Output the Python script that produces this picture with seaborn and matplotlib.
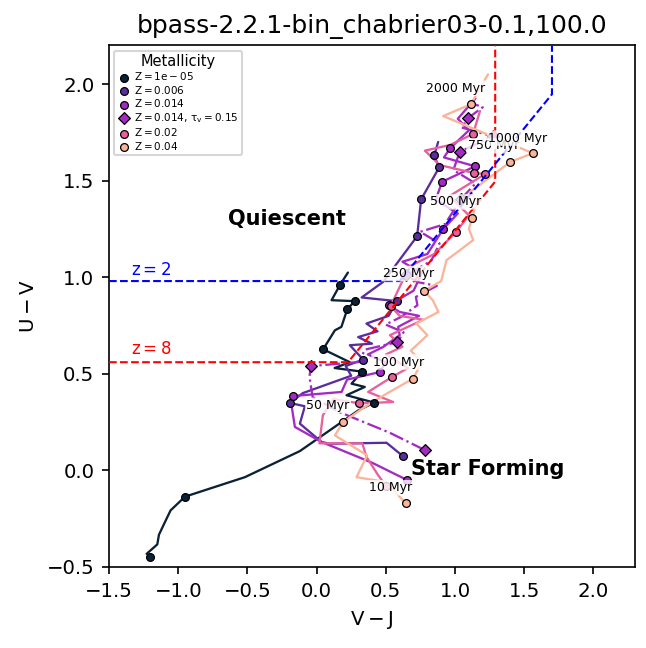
import matplotlib
matplotlib.use("Agg")
import matplotlib.pyplot as plt
import seaborn as sns

# colour-colour tracks (V-J, U-V)
z1e5_line_x = [-1.228, -1.151, -1.139, -1.096, -1.055, -0.951, -0.518, -0.121, 0.12, 0.30, 0.416,
               0.216, 0.348, 0.252, 0.329, 0.13, 0.24, 0.047, 0.132, 0.179, 0.221, 0.274, 0.108, 0.168, 0.226]
z1e5_line_y = [-0.432, -0.383, -0.333, -0.268, -0.207, -0.136, -0.035, 0.100, 0.22, 0.31, 0.351,
               0.389, 0.432, 0.449, 0.511, 0.53, 0.56, 0.627, 0.725, 0.743, 0.833, 0.876, 0.881, 0.959, 1.024]
z1e5_age_x = [-1.204, -0.951, 0.416, 0.329, 0.047, 0.221, 0.274, 0.168]
z1e5_age_y = [-0.446, -0.136, 0.351, 0.511, 0.627, 0.833, 0.876, 0.959]

z006_line_x = [0.625, 0.505, 0.096, 0.036, -0.121, -0.085, -0.193, -0.10, 0.25, 0.21, 0.336, 0.24, 0.40,
               0.30, 0.44, 0.36, 0.52, 0.581, 0.325, 0.481, 0.726, 0.755, 0.885, 0.849, 0.878]
z006_line_y = [0.073, 0.143, 0.138, 0.147, 0.242, 0.332, 0.349, 0.40, 0.49, 0.54, 0.574, 0.648, 0.656,
               0.69, 0.72, 0.76, 0.80, 0.876, 0.895, 0.976, 1.212, 1.403, 1.568, 1.630, 1.70]
z006_age_x = [0.625, -0.193, 0.336, 0.581, 0.726, 0.755, 0.885, 0.849]
z006_age_y = [0.073, 0.349, 0.574, 0.876, 1.212, 1.403, 1.568, 1.630]

z014_line_x = [0.654, 0.40, 0.036, -0.157, -0.18, -0.169, 0.18, 0.22, 0.456, 0.50, 0.37, 0.481, 0.60,
               0.589, 0.74, 0.60, 0.52, 0.70, 0.76, 0.62, 0.80, 0.914, 1.02, 0.86, 0.906, 1.145, 0.92,
               0.965, 1.10, 1.02, 1.14]
z014_line_y = [-0.05, 0.04, 0.147, 0.225, 0.33, 0.385, 0.406, 0.47, 0.509, 0.56, 0.60, 0.639, 0.70,
               0.743, 0.80, 0.82, 0.855, 0.93, 1.02, 1.08, 1.12, 1.249, 1.33, 1.40, 1.494, 1.574, 1.62,
               1.668, 1.76, 1.82, 1.92]
z014_age_x = [0.654, -0.169, 0.456, 0.52, 0.914, 0.906, 1.145, 0.965]
z014_age_y = [-0.05, 0.385, 0.509, 0.855, 1.249, 1.494, 1.574, 1.668]

dust_line_x = [0.782, 0.528, 0.164, -0.029, -0.052, -0.041, 0.308, 0.348, 0.584, 0.628, 0.498, 0.609,
               0.728, 0.717, 0.868, 0.728, 0.648, 0.828, 0.888, 0.748, 0.928, 1.042, 1.148, 0.988,
               1.034, 1.273, 1.048, 1.093, 1.20, 1.12, 1.16]
dust_line_y = [0.105, 0.195, 0.302, 0.380, 0.485, 0.540, 0.561, 0.625, 0.664, 0.715, 0.755, 0.794,
               0.855, 0.898, 0.955, 0.975, 1.010, 1.085, 1.175, 1.235, 1.275, 1.404, 1.485, 1.555,
               1.649, 1.729, 1.775, 1.823, 1.88, 1.90, 1.94]
dust_age_x = [0.782, -0.041, 0.584, 0.648, 1.042, 1.034, 1.273, 1.093]
dust_age_y = [0.105, 0.540, 0.664, 1.010, 1.404, 1.649, 1.729, 1.823]

z02_line_x = [0.50, 0.44, 0.36, 0.33, 0.02, 0.045, 0.12, 0.307, 0.553, 0.372, 0.545, 0.66, 0.50, 0.62,
              0.53, 0.77, 0.60, 0.534, 0.62, 0.68, 0.85, 1.008, 1.10, 0.96, 1.217, 1.138, 0.89, 0.782,
              0.962, 1.130, 1.18]
z02_line_y = [-0.08, -0.02, 0.07, 0.14, 0.14, 0.285, 0.37, 0.347, 0.354, 0.406, 0.484, 0.53, 0.60, 0.64,
              0.70, 0.78, 0.80, 0.850, 0.98, 1.06, 1.12, 1.235, 1.32, 1.42, 1.534, 1.539, 1.58, 1.655,
              1.684, 1.741, 1.86]
z02_age_x = [0.50, 0.307, 0.545, 0.534, 1.008, 1.138, 1.217, 1.130]
z02_age_y = [-0.08, 0.347, 0.484, 0.850, 1.235, 1.539, 1.534, 1.741]

z04_line_x = [0.647, 0.613, 0.505, 0.288, 0.365, 0.132, 0.192, 0.33, 0.505, 0.697, 0.76, 0.68, 0.80,
              0.72, 0.88, 0.84, 0.777, 0.90, 0.938, 1.131, 1.10, 1.123, 1.16, 1.106, 1.398, 1.561,
              0.914, 1.114, 1.238]
z04_line_y = [-0.171, -0.147, -0.061, -0.035, 0.078, 0.181, 0.25, 0.32, 0.397, 0.475, 0.56, 0.62, 0.70,
              0.76, 0.82, 0.88, 0.929, 0.98, 1.088, 1.192, 1.25, 1.306, 1.40, 1.439, 1.596, 1.642,
              1.834, 1.895, 2.05]
z04_age_x = [0.647, 0.192, 0.697, 0.777, 1.123, 1.398, 1.561, 1.114]
z04_age_y = [-0.171, 0.25, 0.475, 0.929, 1.306, 1.596, 1.642, 1.895]

# age labels
age_text = ["10 Myr", "50 Myr", "100 Myr", "250 Myr", "500 Myr", "750 Myr", "1000 Myr", "2000 Myr"]
age_text_x = [0.534, 0.083, 0.589, 0.661, 1.005, 1.275, 1.455, 1.005]
age_text_y = [-0.09, 0.337, 0.561, 1.019, 1.39, 1.68, 1.72, 1.978]

# quiescent selection boundaries
z8_cut_x = [-1.5, 0.227, 1.29, 1.29]
z8_cut_y = [0.56, 0.56, 1.495, 2.2]
z2_cut_x = [-1.5, 0.60, 1.70, 1.70]
z2_cut_y = [0.98, 0.98, 1.947, 2.2]

tracks = [
    (r"$Z = 1e-05$", z1e5_line_x, z1e5_line_y, z1e5_age_x, z1e5_age_y, "#0b2136", "-", "o"),
    (r"$Z = 0.006$", z006_line_x, z006_line_y, z006_age_x, z006_age_y, "#5a2d9e", "-", "o"),
    (r"$Z = 0.014$", z014_line_x, z014_line_y, z014_age_x, z014_age_y, "#a32bc4", "-", "o"),
    (r"$Z = 0.014,\, \tau_{v} = 0.15$", dust_line_x, dust_line_y, dust_age_x, dust_age_y, "#a32bc4", "-.", "D"),
    (r"$Z = 0.02$", z02_line_x, z02_line_y, z02_age_x, z02_age_y, "#e8609c", "-", "o"),
    (r"$Z = 0.04$", z04_line_x, z04_line_y, z04_age_x, z04_age_y, "#fbb49a", "-", "o"),
]

sns.set_style("ticks")
plt.rcParams["mathtext.default"] = "regular"
plt.rcParams["font.family"] = ["DejaVu Sans"]
plt.rcParams["text.color"] = "black"
plt.rcParams["axes.labelcolor"] = "black"

fig = plt.figure(figsize=(646 / 150, 648 / 150), dpi=150)
ax = fig.add_axes([0.1687, 0.125, 0.8143, 0.805])

for label, lx, ly, mx, my, color, ls, marker in tracks:
    sns.lineplot(x=lx, y=ly, sort=False, estimator=None, color=color, linestyle=ls,
                 linewidth=1.1, ax=ax, zorder=2)
    sns.scatterplot(x=mx, y=my, color=color, marker=marker, s=14 if marker == "o" else 16,
                    edgecolor="black", linewidth=0.6, label=label, ax=ax, zorder=3)

ax.plot(z8_cut_x, z8_cut_y, color="red", linestyle="--", linewidth=1.0, zorder=4)
ax.plot(z2_cut_x, z2_cut_y, color="blue", linestyle="--", linewidth=1.0, zorder=4)
ax.text(-1.34, 1.01, r"$z = 2$", color="blue", fontsize=8)
ax.text(-1.34, 0.60, r"$z = 8$", color="red", fontsize=8)

for t, tx, ty in zip(age_text, age_text_x, age_text_y):
    ax.text(tx, ty, t, fontsize=6, ha="center", va="center", zorder=5, color="black",
            bbox=dict(boxstyle="round,pad=0.1", facecolor="white", edgecolor="none", alpha=0.8))

ax.text(-0.215, 1.30, "Quiescent", fontsize=10, fontweight="bold", ha="center", va="center", color="black")
ax.text(1.236, 0.005, "Star Forming", fontsize=10, fontweight="bold", ha="center", va="center", color="black")

ax.set_xlim(-1.5, 2.3)
ax.set_ylim(-0.5, 2.2)
ax.set_xticks([-1.5, -1.0, -0.5, 0.0, 0.5, 1.0, 1.5, 2.0])
ax.set_yticks([-0.5, 0.0, 0.5, 1.0, 1.5, 2.0])
ax.tick_params(labelsize=9.5, colors="black", direction="out", length=3.5, width=0.8)
for sp in ax.spines.values():
    sp.set_color("black")
    sp.set_linewidth(0.8)
ax.set_xlabel(r"$V - J$", fontsize=9.5)
ax.set_ylabel(r"$U - V$", fontsize=9.5)
ax.set_title("bpass-2.2.1-bin_chabrier03-0.1,100.0", fontsize=12, color="black")

leg = ax.legend(loc="upper left", title="Metallicity", fontsize=5, title_fontsize=7,
                handletextpad=0.4, labelspacing=0.15, borderpad=0.3, handlelength=1.2,
                frameon=True, fancybox=True)
leg.get_frame().set_edgecolor("#cccccc")
for txt in leg.get_texts():
    txt.set_color("black")
leg.get_title().set_color("black")

fig.savefig("out.png", dpi=150)
